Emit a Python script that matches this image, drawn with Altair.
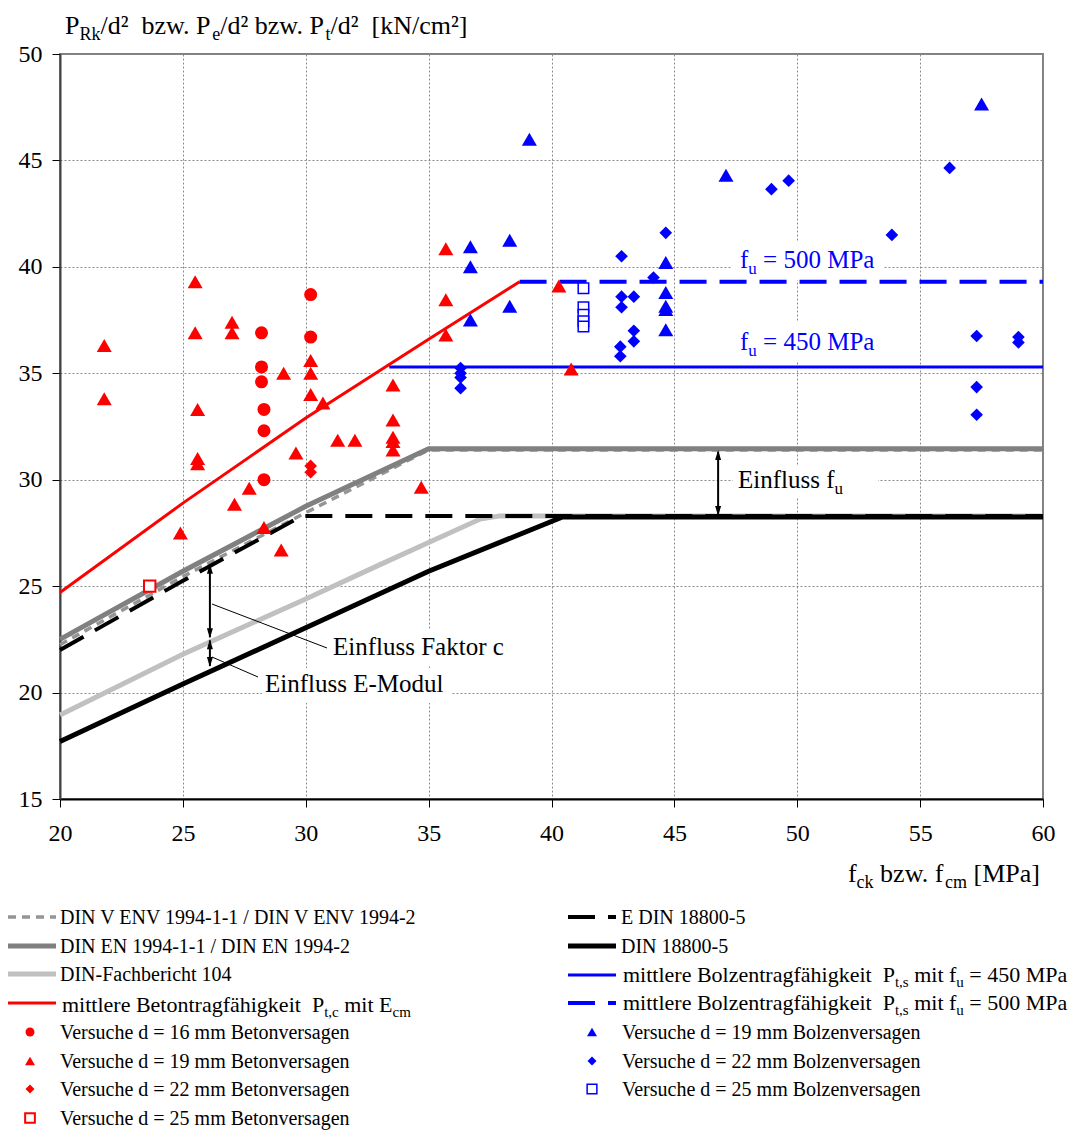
import altair as alt
import pandas as pd

# ---------------- data ----------------
# test results, concrete failure (red)
red16_x = [28.2, 30.2, 30.2, 28.2, 28.2, 28.3, 28.3, 28.3]
red16_y = [36.9, 38.7, 36.7, 35.3, 34.6, 33.3, 32.3, 30.0]
red19_x = [21.8, 21.8, 25.5, 25.5, 25.6, 25.6, 25.6, 27.0, 27.0, 24.9, 27.1, 27.7, 28.3, 29.0,
           29.1, 29.6, 30.2, 30.2, 30.2, 30.7, 31.3, 32.0, 33.55, 33.55, 33.55, 33.55, 33.55,
           34.7, 35.7, 35.7, 35.7, 40.3, 40.8]
red19_y = [36.3, 33.8, 39.3, 36.9, 33.3, 31.0, 30.75, 37.4, 36.9, 27.5, 28.85, 29.6, 27.75, 26.7,
           35.0, 31.25, 35.6, 35.0, 34.0, 33.6, 31.85, 31.85, 34.45, 32.8, 32.0, 31.8, 31.4,
           29.65, 40.85, 38.45, 36.8, 39.1, 35.2]
red22_x = [30.2, 30.2]
red22_y = [30.65, 30.35]
red25_x = [23.65]
red25_y = [25.0]
# test results, stud failure (blue)
blue19_x = [36.7, 36.7, 36.7, 38.3, 38.3, 39.1, 44.65, 44.65, 44.65, 44.65, 44.65, 47.1, 57.5]
blue19_y = [40.95, 40.0, 37.5, 41.25, 38.15, 46.0, 40.2, 38.8, 38.15, 38.0, 37.05, 44.3, 47.65]
blue22_x = [36.3, 36.3, 36.3, 36.3, 42.85, 42.85, 42.85, 43.35, 43.35, 43.35, 42.8, 42.8, 44.15,
            44.65, 48.95, 49.65, 53.85, 56.2, 57.3, 57.3, 57.3, 59.0, 59.0]
blue22_y = [35.25, 35.0, 34.8, 34.3, 40.5, 38.6, 38.1, 38.6, 37.0, 36.5, 36.25, 35.8, 39.5,
            41.6, 43.65, 44.05, 41.5, 44.65, 36.75, 34.35, 33.05, 36.7, 36.45]
blue25_x = [41.3, 41.3, 41.3, 41.3, 41.3]
blue25_y = [39.0, 38.1, 37.75, 37.45, 37.2]

# design / mean curves
red_x = [20, 25, 30, 35, 38.7]
red_y = [24.7, 28.9, 32.9, 36.6, 39.3]
b450_x = [33.4, 60]
b450_y = [35.3, 35.3]
b500_x = [38.7, 60]
b500_y = [39.3, 39.3]
en_x = [20, 25, 30, 35, 60]
en_y = [22.5, 25.7, 28.75, 31.45, 31.45]
env_x = [20, 25, 30, 35, 60]
env_y = [22.25, 25.45, 28.45, 31.4, 31.4]
fb_x = [20, 25, 30, 33, 35, 37.1, 37.9, 60]
fb_y = [18.95, 21.8, 24.4, 26.0, 27.05, 28.15, 28.3, 28.3]
edin_x = [20, 25, 29.85, 60]
edin_y = [22.0, 25.25, 28.3, 28.3]
din_x = [20, 25, 30, 35, 40.45, 60]
din_y = [17.7, 20.4, 23.05, 25.7, 28.25, 28.25]

x_ticks = [20, 25, 30, 35, 40, 45, 50, 55, 60]
y_ticks = [15, 20, 25, 30, 35, 40, 45, 50]

# ---------------- layout helpers ----------------
W, H = 983, 745
PADL, PADT = 60, 54
XMIN, XMAX, YMIN, YMAX = 20, 60, 15, 50
FONT = "Liberation Serif"
RED, BLUE = "#ff0000", "#0000ff"


def X(px):
    return XMIN + (px - PADL) * (XMAX - XMIN) / W


def Y(py):
    return YMAX - (py - PADT) * (YMAX - YMIN) / H


PXU = H / (YMAX - YMIN)  # pixels per y unit

TW = {' ': 250, ',': 250, '-': 333, '.': 250, '/': 278, '=': 564, '[': 333, ']': 333, '²': 300,
      'A': 722, 'B': 667, 'C': 667, 'D': 722, 'E': 611, 'F': 556, 'I': 333, 'K': 722, 'M': 889,
      'N': 722, 'P': 556, 'R': 667, 'V': 722,
      'a': 444, 'b': 500, 'c': 444, 'd': 500, 'e': 444, 'f': 333, 'g': 500, 'h': 500, 'i': 278,
      'k': 500, 'l': 278, 'm': 778, 'n': 500, 'o': 500, 'p': 500, 'r': 333, 's': 389, 't': 278,
      'u': 500, 'v': 500, 'w': 722, 'z': 444, 'ä': 444}
for ch in "0123456789":
    TW[ch] = 500


def tw(s, fs):
    return sum(TW.get(ch, 500) for ch in s) * fs / 1000.0


text_rows = []


def add_text(parts, px, pybase, fs, color="black", align="left"):
    sub_fs = round(fs * 0.68)
    sizes = [sub_fs if sub else fs for _, sub in parts]
    total = sum(tw(t, f) for (t, _), f in zip(parts, sizes))
    cur = px - total if align == "right" else px
    for (t, sub), f in zip(parts, sizes):
        lead = len(t) - len(t.lstrip(' '))
        txt = t.strip(' ')
        if txt:
            text_rows.append(dict(x=X(cur + lead * TW[' '] * f / 1000.0),
                                  y=Y(pybase + (0.22 * fs if sub else 0)),
                                  t=txt, fs=f, c=color))
        cur += tw(t, f)


xs = alt.Scale(domain=[XMIN, XMAX], nice=False, zero=False)
ys = alt.Scale(domain=[YMIN, YMAX], nice=False, zero=False)
XE = alt.X("x:Q", scale=xs, axis=alt.Axis(values=x_ticks, title=None, labelPadding=14,
                                          labelFont=FONT, labelFontSize=24))
YE = alt.Y("y:Q", scale=ys, axis=alt.Axis(values=y_ticks, title=None, labelPadding=10,
                                          labelFont=FONT, labelFontSize=24))

layers = []

# white boxes behind annotation texts
boxes = pd.DataFrame([
    dict(x=X(732), x2=X(883), y=Y(242), y2=Y(280)),
    dict(x=X(732), x2=X(883), y=Y(322), y2=Y(362)),
    dict(x=X(733), x2=X(878), y=Y(465), y2=Y(497)),
    dict(x=X(330), x2=X(512), y=Y(630), y2=Y(665)),
    dict(x=X(262), x2=X(452), y=Y(668), y2=Y(703)),
])
layers.append(alt.Chart(boxes).mark_rect(color="white").encode(
    x=XE, x2="x2:Q", y=YE, y2="y2:Q"))

# legend swatch positions (pixels)
LX0, LX1 = 8, 56
RX0, RX1 = 568, 616


def series(xv, yv, swatch_px, swatch_py, **style):
    rows = [dict(x=a, y=b, g=0) for a, b in zip(xv, yv)]
    rows += [dict(x=X(swatch_px[0]), y=Y(swatch_py), g=1),
             dict(x=X(swatch_px[1]), y=Y(swatch_py), g=1)]
    return alt.Chart(pd.DataFrame(rows)).mark_line(strokeCap="butt", **style).encode(
        x=XE, y=YE, detail="g:N")


layers.append(series(fb_x, fb_y, (LX0, LX1), 974, color="#c0c0c0", strokeWidth=5))
layers.append(series(env_x, env_y, (LX0, LX1), 917, color="#959595", strokeWidth=3.5,
                     strokeDash=[8, 6]))
layers.append(series(en_x, en_y, (LX0, LX1), 946, color="#808080", strokeWidth=5))
layers.append(series(edin_x, edin_y, (RX0, RX1), 917, color="black", strokeWidth=4,
                     strokeDash=[27, 13]))
layers.append(series(din_x, din_y, (RX0, RX1), 946, color="black", strokeWidth=5))
layers.append(series(red_x, red_y, (LX0, LX1), 1003, color=RED, strokeWidth=3))
layers.append(series(b450_x, b450_y, (RX0, RX1), 975, color=BLUE, strokeWidth=3))
layers.append(series(b500_x, b500_y, (RX0, RX1), 1003, color=BLUE, strokeWidth=4,
                     strokeDash=[27, 13]))

# arrows and leader lines
rules = pd.DataFrame([
    dict(x=26.1, x2=26.1, y=26.0, y2=22.6, w=2),
    dict(x=26.1, x2=26.1, y=22.45, y2=21.25, w=2),
    dict(x=46.78, x2=46.78, y=31.3, y2=28.4, w=2),
    dict(x=X(212), x2=X(327), y=Y(604), y2=Y(648), w=1),
    dict(x=X(212), x2=X(258), y=Y(657), y2=Y(677), w=1),
])
layers.append(alt.Chart(rules).mark_rule(color="black").encode(
    x=XE, x2="x2:Q", y=YE, y2="y2:Q",
    strokeWidth=alt.StrokeWidth("w:Q", scale=None, legend=None)))

UP = "M0,-1L0.6,1L-0.6,1Z"
DOWN = "M0,1L0.6,-1L-0.6,-1Z"
off = 5 / PXU
heads_up = pd.DataFrame(dict(x=[26.1, 26.1, 46.78], y=[26.05 - off, 22.5 - off, 31.4 - off]))
heads_dn = pd.DataFrame(dict(x=[26.1, 26.1, 46.78], y=[22.55 + off, 21.2 + off, 28.3 + off]))
layers.append(alt.Chart(heads_up).mark_point(shape=UP, filled=True, color="black", size=100,
                                             opacity=1).encode(x=XE, y=YE))
layers.append(alt.Chart(heads_dn).mark_point(shape=DOWN, filled=True, color="black", size=100,
                                             opacity=1).encode(x=XE, y=YE))


# markers
def markers(xv, yv, legend_px, legend_py, shape, color, size, lsize, hollow=False, sw=1.5):
    rows = [dict(x=a, y=b, s=size) for a, b in zip(xv, yv)]
    rows.append(dict(x=X(legend_px), y=Y(legend_py), s=lsize))
    if hollow:
        mk = alt.Chart(pd.DataFrame(rows)).mark_point(shape=shape, fill="white", fillOpacity=1,
                                                      stroke=color, strokeWidth=sw, opacity=1)
    else:
        mk = alt.Chart(pd.DataFrame(rows)).mark_point(shape=shape, filled=True, color=color,
                                                      opacity=1)
    return mk.encode(x=XE, y=YE, size=alt.Size("s:Q", scale=None, legend=None))


layers.append(markers(red16_x, red16_y, 30, 1032, "circle", RED, 170, 80))
layers.append(markers(red19_x, red19_y, 30, 1061, "triangle-up", RED, 225, 100))
layers.append(markers(red22_x, red22_y, 30, 1089, "diamond", RED, 160, 80))
layers.append(markers(red25_x, red25_y, 30, 1118, "square", RED, 130, 95, hollow=True, sw=2))
layers.append(markers(blue19_x, blue19_y, 592, 1032, "triangle-up", BLUE, 225, 100))
layers.append(markers(blue22_x, blue22_y, 592, 1061, "diamond", BLUE, 160, 80))
layers.append(markers(blue25_x, blue25_y, 592, 1089, "square", BLUE, 110, 95, hollow=True))

# ---------------- texts ----------------
# y-axis title
add_text([("P", False), ("Rk", True), ("/d²", False), ("  bzw. P", False), ("e", True),
          ("/d² bzw. P", False), ("t", True), ("/d²", False), ("  [kN/cm²]", False)],
         65, 34, 26)
# x-axis title
add_text([("f", False), ("ck", True), (" bzw. f", False), ("cm", True), (" [MPa]", False)],
         1040, 882, 26, align="right")
# annotations
add_text([("f", False), ("u", True), (" = 500 MPa", False)], 740, 268, 25, BLUE)
add_text([("f", False), ("u", True), (" = 450 MPa", False)], 740, 350, 25, BLUE)
add_text([("Einfluss f", False), ("u", True)], 738, 488, 25)
add_text([("Einfluss Faktor c", False)], 333, 655, 25)
add_text([("Einfluss E-Modul", False)], 265, 692, 25)

# legend texts
add_text([("DIN V ENV 1994-1-1 / DIN V ENV 1994-2", False)], 60, 924, 20)
add_text([("DIN EN 1994-1-1 / DIN EN 1994-2", False)], 60, 953, 20)
add_text([("DIN-Fachbericht 104", False)], 60, 981, 20)
add_text([("mittlere Betontragfähigkeit", False), ("  P", False), ("t,c", True),
          (" mit E", False), ("cm", True)], 62, 1012, 22)
add_text([("Versuche d = 16 mm Betonversagen", False)], 60, 1039, 20)
add_text([("Versuche d = 19 mm Betonversagen", False)], 60, 1068, 20)
add_text([("Versuche d = 22 mm Betonversagen", False)], 60, 1096, 20)
add_text([("Versuche d = 25 mm Betonversagen", False)], 60, 1125, 20)

add_text([("E DIN 18800-5", False)], 621, 924, 20)
add_text([("DIN 18800-5", False)], 621, 953, 20)
add_text([("mittlere Bolzentragfähigkeit", False), ("  P", False), ("t,s", True),
          (" mit f", False), ("u", True), (" = 450 MPa", False)], 623, 982, 22)
add_text([("mittlere Bolzentragfähigkeit", False), ("  P", False), ("t,s", True),
          (" mit f", False), ("u", True), (" = 500 MPa", False)], 623, 1010, 22)
add_text([("Versuche d = 19 mm Bolzenversagen", False)], 622, 1039, 20)
add_text([("Versuche d = 22 mm Bolzenversagen", False)], 622, 1068, 20)
add_text([("Versuche d = 25 mm Bolzenversagen", False)], 622, 1096, 20)

layers.append(alt.Chart(pd.DataFrame(text_rows)).mark_text(
    align="left", baseline="alphabetic", font=FONT).encode(
    x=XE, y=YE, text="t:N",
    size=alt.Size("fs:Q", scale=None, legend=None),
    color=alt.Color("c:N", scale=None, legend=None)))

chart = alt.layer(*layers).properties(
    width=W, height=H,
    autosize=alt.AutoSizeParams(type="none"),
    padding={"left": PADL, "top": PADT, "right": 1088 - PADL - W, "bottom": 1131 - PADT - H},
    background="white",
).configure_axis(
    labelFont=FONT, labelFontSize=24, labelColor="black", labelFlush=False,
    tickColor="black", tickSize=8, tickWidth=1,
    gridColor="#8a8a8a", gridDash=[2, 2], gridWidth=1,
    domainColor="black", domainWidth=2,
).configure_axisY(domainColor="#404040").configure_view(stroke="#808080", strokeWidth=2)

chart.save("out.html", embed_options={"renderer": "svg", "actions": False})
